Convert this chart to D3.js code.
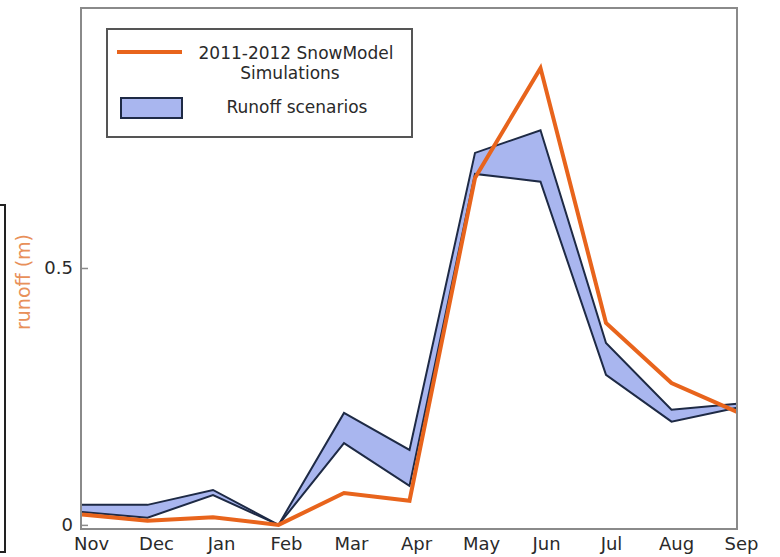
<!DOCTYPE html>
<html>
<head>
<meta charset="utf-8">
<script src="https://cdn.jsdelivr.net/npm/d3@7/dist/d3.min.js"></script>
<style>
  html, body { margin: 0; padding: 0; background: #fff; }
  svg { display: block; font-family: "DejaVu Sans", sans-serif; }
</style>
</head>
<body>
<svg id="chart" width="780" height="557"></svg>
<script>
const months = ["Nov","Dec","Jan","Feb","Mar","Apr","May","Jun","Jul","Aug","Sep"];
const snowModel = [0.020, 0.008, 0.015, 0.000, 0.062, 0.047, 0.675, 0.889, 0.393, 0.276, 0.220];
const scenarioUpper = [0.039, 0.039, 0.068, 0.000, 0.218, 0.146, 0.724, 0.768, 0.354, 0.224, 0.236];
const scenarioLower = [0.025, 0.014, 0.058, 0.000, 0.159, 0.076, 0.683, 0.668, 0.292, 0.201, 0.228];
const yTicks = [0, 0.5];
const yTickLabels = ["0", "0.5"];
const legendLabels = [["2011-2012 SnowModel", "Simulations"], ["Runoff scenarios"]];
const yLabel = "runoff (m)";

const svg = d3.select("#chart");
const frame = { left: 81, right: 737, top: 8, bottom: 529 };

const x = d3.scalePoint().domain(months).range([frame.left + 1, frame.right]);
const xLabel = d3.scalePoint().domain(months).range([91, 741]);
const y = d3.scaleLinear().domain([-0.008, 1.006]).range([frame.bottom, frame.top]);

const orange = "#e8641c";
const fillBlue = "#a9b6ef";
const edge = "#1e2a45";
const textCol = "#2a2a2a";

// left bracket (part of neighbouring panel)
svg.append("path")
  .attr("d", "M0,205 H5 V552 H0")
  .attr("fill", "none").attr("stroke", "#222").attr("stroke-width", 2);

// band
const idx = d3.range(months.length);
const area = d3.area()
  .x(i => x(months[i]))
  .y0(i => y(scenarioLower[i]))
  .y1(i => y(scenarioUpper[i]));
svg.append("path").datum(idx).attr("d", area).attr("fill", fillBlue);
const lineU = d3.line().x(i => x(months[i])).y(i => y(scenarioUpper[i]));
const lineL = d3.line().x(i => x(months[i])).y(i => y(scenarioLower[i]));
svg.append("path").datum(idx).attr("d", lineU).attr("fill", "none").attr("stroke", edge).attr("stroke-width", 2);
svg.append("path").datum(idx).attr("d", lineL).attr("fill", "none").attr("stroke", edge).attr("stroke-width", 2);

// orange line
const lineO = d3.line().x(i => x(months[i])).y(i => y(snowModel[i]));
svg.append("path").datum(idx).attr("d", lineO).attr("fill", "none")
  .attr("stroke", orange).attr("stroke-width", 4).attr("stroke-linejoin", "miter");

// frame
svg.append("rect")
  .attr("x", frame.left).attr("y", frame.top)
  .attr("width", frame.right - frame.left).attr("height", frame.bottom - frame.top)
  .attr("fill", "none").attr("stroke", "#8a8a8a").attr("stroke-width", 2);

// y axis
const yAxis = d3.axisLeft(y).tickValues(yTicks).tickSizeInner(-7).tickSizeOuter(0)
  .tickPadding(8).tickFormat((d, i) => yTickLabels[i]);
const gy = svg.append("g").attr("transform", `translate(${frame.left},0)`).call(yAxis);
gy.select(".domain").remove();
gy.selectAll(".tick line").attr("stroke", "#8a8a8a").attr("stroke-width", 1.5);
gy.selectAll(".tick text").attr("font-size", 18).attr("fill", textCol)
  .attr("font-family", "DejaVu Sans, sans-serif");

// x axis labels
const xAxis = d3.axisBottom(xLabel).tickSize(0).tickPadding(8);
const gx = svg.append("g").attr("transform", `translate(0,${frame.bottom})`).call(xAxis);
gx.select(".domain").remove();
gx.selectAll(".tick text").attr("font-size", 18).attr("fill", textCol)
  .attr("font-family", "DejaVu Sans, sans-serif");

// y label
svg.append("text")
  .attr("transform", "translate(30,282) rotate(-90)")
  .attr("text-anchor", "middle")
  .attr("font-size", 19).attr("fill", "#e8905a")
  .text(yLabel);

// legend
const lg = svg.append("g");
lg.append("rect").attr("x", 107).attr("y", 29).attr("width", 305).attr("height", 108)
  .attr("fill", "#fff").attr("stroke", "#555").attr("stroke-width", 2);
lg.append("line").attr("x1", 117).attr("x2", 182).attr("y1", 52).attr("y2", 52)
  .attr("stroke", orange).attr("stroke-width", 4);
lg.append("rect").attr("x", 121).attr("y", 98).attr("width", 61).attr("height", 20)
  .attr("fill", fillBlue).attr("stroke", edge).attr("stroke-width", 2);
const t1 = lg.append("text").attr("text-anchor", "middle").attr("font-size", 17).attr("fill", textCol);
t1.append("tspan").attr("x", 296).attr("y", 59).text(legendLabels[0][0]);
t1.append("tspan").attr("x", 290).attr("y", 79).text(legendLabels[0][1]);
lg.append("text").attr("x", 297).attr("y", 113).attr("text-anchor", "middle")
  .attr("font-size", 17).attr("fill", textCol).text(legendLabels[1][0]);
</script>
</body>
</html>
